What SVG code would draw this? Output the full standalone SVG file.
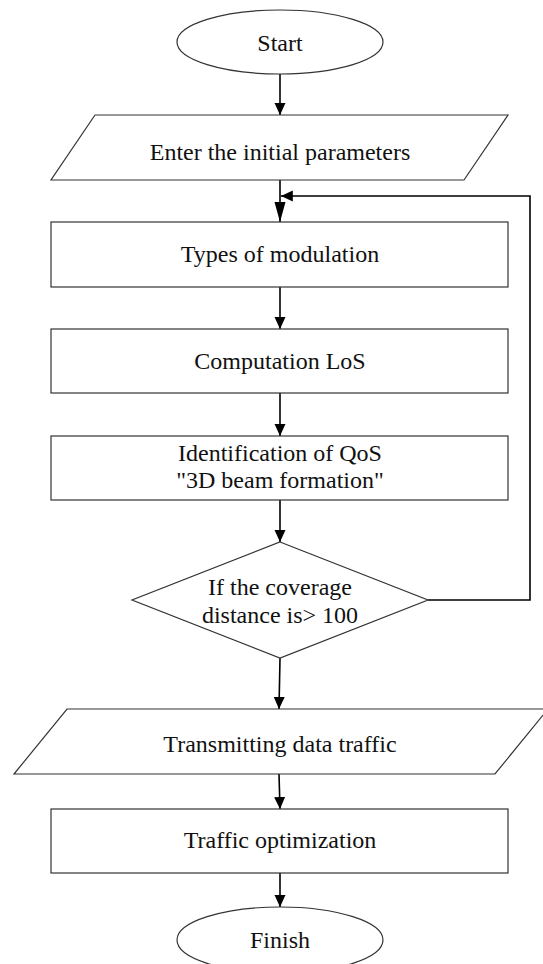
<svg xmlns="http://www.w3.org/2000/svg" width="543" height="964" viewBox="0 0 543 964">
<style>
.shape{fill:#fff;stroke:#333;stroke-width:1.2}
.t{font-family:"Liberation Serif","Times New Roman",serif;font-size:24px;fill:#111;text-anchor:middle}
.c{fill:none;stroke:#000;stroke-width:1.6}
</style>
<defs>
<marker id="ah" markerUnits="userSpaceOnUse" markerWidth="12" markerHeight="12" viewBox="0 0 12 12" refX="12" refY="6" orient="auto">
<path d="M0,0.5 L12,6 L0,11.5 Z" fill="#000"/>
</marker>
<marker id="ahl" markerUnits="userSpaceOnUse" markerWidth="20" markerHeight="12" viewBox="0 0 20 12" refX="20" refY="6" orient="auto">
<path d="M0,0.5 L20,6 L0,11.5 Z" fill="#000"/>
</marker>
</defs>
<rect width="543" height="964" fill="#fff"/>
<g id="connectors">
<line class="c" x1="280" y1="74" x2="280" y2="115" marker-end="url(#ah)"/>
<line class="c" x1="280" y1="180" x2="280" y2="222" marker-end="url(#ahl)"/>
<line class="c" x1="280" y1="287" x2="280" y2="329" marker-end="url(#ah)"/>
<line class="c" x1="280" y1="393" x2="280" y2="436" marker-end="url(#ah)"/>
<line class="c" x1="280" y1="500" x2="280" y2="542" marker-end="url(#ah)"/>
<polyline class="c" points="428,600 530,600 530,196 280.8,196" marker-end="url(#ah)"/>
<line class="c" x1="280" y1="658" x2="279" y2="709" marker-end="url(#ah)"/>
<line class="c" x1="279" y1="774" x2="280" y2="809" marker-end="url(#ah)"/>
<line class="c" x1="280" y1="873" x2="280" y2="907" marker-end="url(#ah)"/>
</g>
<g id="start">
<ellipse class="shape" cx="280" cy="42" rx="103" ry="32"/>
<text class="t" x="280" y="51">Start</text>
</g>
<g id="enter-params">
<polygon class="shape" points="95,115 508,115 464,180 51,180"/>
<text class="t" x="280" y="160">Enter the initial parameters</text>
</g>
<g id="modulation">
<rect class="shape" x="51" y="222" width="457" height="65"/>
<text class="t" x="280" y="262">Types of modulation</text>
</g>
<g id="computation">
<rect class="shape" x="51" y="329" width="457" height="64"/>
<text class="t" x="280" y="369">Computation LoS</text>
</g>
<g id="qos">
<rect class="shape" x="51" y="436" width="457" height="64"/>
<text class="t" x="280" y="461">Identification of QoS</text>
<text class="t" x="280" y="488">"3D beam formation"</text>
</g>
<g id="decision">
<polygon class="shape" points="280,542 428,600 280,658 132,600"/>
<text class="t" x="280" y="595">If the coverage</text>
<text class="t" x="280" y="623">distance is&gt; 100</text>
</g>
<g id="transmit">
<polygon class="shape" points="67,709 548,709 495,774 14,774"/>
<text class="t" x="280" y="752">Transmitting data traffic</text>
</g>
<g id="optimization">
<rect class="shape" x="51" y="809" width="457" height="64"/>
<text class="t" x="280" y="848">Traffic optimization</text>
</g>
<g id="finish">
<ellipse class="shape" cx="280" cy="940" rx="103" ry="33"/>
<text class="t" x="280" y="948">Finish</text>
</g>
</svg>
